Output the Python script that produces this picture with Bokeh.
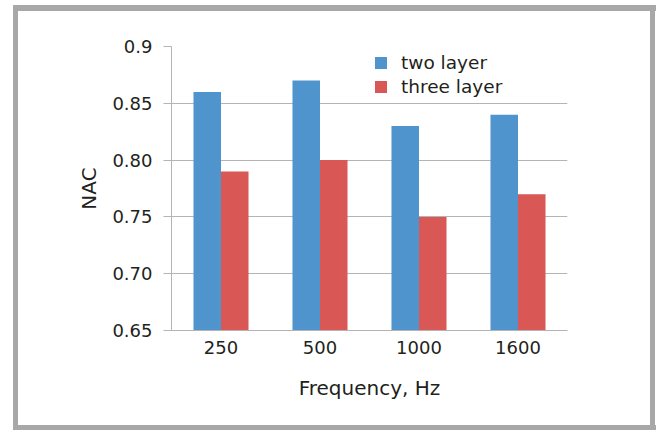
from bokeh.plotting import figure
from bokeh.models import (ColumnDataSource, FactorRange, Range1d, FixedTicker,
                          Legend, LegendItem, NumeralTickFormatter)
from bokeh.transform import dodge
from bokeh.embed import file_html
from bokeh.resources import INLINE

# ---- data ----
freqs = ["250", "500", "1000", "1600"]
two_layer = [0.86, 0.87, 0.83, 0.84]
three_layer = [0.79, 0.80, 0.75, 0.77]
y_ticks = [0.65, 0.70, 0.75, 0.80, 0.85, 0.90]
y_tick_labels = ["0.65", "0.70", "0.75", "0.80", "0.85", "0.9"]
series_names = ["two layer", "three layer"]

BLUE = "#4f94cc"
RED = "#d95754"
GRID = "#b4b4b4"
TEXT = "#231f20"
FRAME = "#a8a8a8"
FONT = "DejaVu Sans"

src = ColumnDataSource(dict(freq=freqs, two=two_layer, three=three_layer))

p = figure(width=656, height=430, output_backend="svg", toolbar_location=None,
           x_range=FactorRange(*freqs, range_padding=0.0),
           y_range=Range1d(0.65, 0.9),
           min_border_left=171, min_border_right=89,
           min_border_top=46, min_border_bottom=100)

p.outline_line_color = None
p.background_fill_color = "white"
p.border_fill_color = None

# outer gray frame drawn as CSS background behind a transparent border area
g = f"linear-gradient({FRAME},{FRAME})"
p.styles = {
    "background": (
        f"{g} 13px 5px / 5px 425px no-repeat, "
        f"{g} 13px 5px / 643px 6px no-repeat, "
        f"{g} 650px 5px / 5px 425px no-repeat, "
        f"{g} 13px 425px / 643px 5px no-repeat, "
        "white"
    )
}

r1 = p.vbar(x=dodge("freq", -0.139, range=p.x_range), top="two", bottom=0.65,
            width=0.278, source=src, fill_color=BLUE, line_color=None)
r2 = p.vbar(x=dodge("freq", 0.139, range=p.x_range), top="three", bottom=0.65,
            width=0.278, source=src, fill_color=RED, line_color=None)

# grid
p.xgrid.grid_line_color = None
p.ygrid.grid_line_color = GRID
p.ygrid.grid_line_width = 1
p.ygrid.ticker = FixedTicker(ticks=y_ticks)

# y axis
ya = p.yaxis[0]
ya.ticker = FixedTicker(ticks=y_ticks)
ya.formatter = NumeralTickFormatter(format="0.00")
ya.major_label_overrides = {t: l for t, l in zip(y_ticks, y_tick_labels)}
ya.axis_line_color = GRID
ya.major_tick_line_color = GRID
ya.major_tick_out = 8
ya.major_tick_in = 0
ya.minor_tick_line_color = None
ya.major_label_standoff = 11
ya.major_label_text_font = FONT
ya.major_label_text_font_size = "18px"
ya.major_label_text_color = TEXT
ya.axis_label = "NAC"
ya.axis_label_text_font = FONT
ya.axis_label_text_font_size = "20px"
ya.axis_label_text_font_style = "normal"
ya.axis_label_text_color = TEXT
ya.axis_label_standoff = 8

# x axis
xa = p.xaxis[0]
xa.axis_line_color = GRID
xa.major_tick_line_color = None
xa.major_tick_out = 0
xa.major_tick_in = 0
xa.minor_tick_line_color = None
xa.major_label_standoff = 10
xa.major_label_text_font = FONT
xa.major_label_text_font_size = "18px"
xa.major_label_text_color = TEXT
xa.axis_label = "Frequency, Hz"
xa.axis_label_text_font = FONT
xa.axis_label_text_font_size = "20px"
xa.axis_label_text_font_style = "normal"
xa.axis_label_text_color = TEXT
xa.axis_label_standoff = 19

# legend
legend = Legend(items=[LegendItem(label=series_names[0], renderers=[r1]),
                       LegendItem(label=series_names[1], renderers=[r2])],
                location=(202, 233), orientation="vertical",
                glyph_width=15, glyph_height=15, label_height=15,
                label_standoff=13, spacing=3, padding=0, margin=0,
                border_line_color=None, background_fill_alpha=0,
                label_text_font=FONT, label_text_font_size="18.5px",
                label_text_color=TEXT)
p.add_layout(legend, "center")

open("out.html", "w").write(file_html(p, INLINE))
